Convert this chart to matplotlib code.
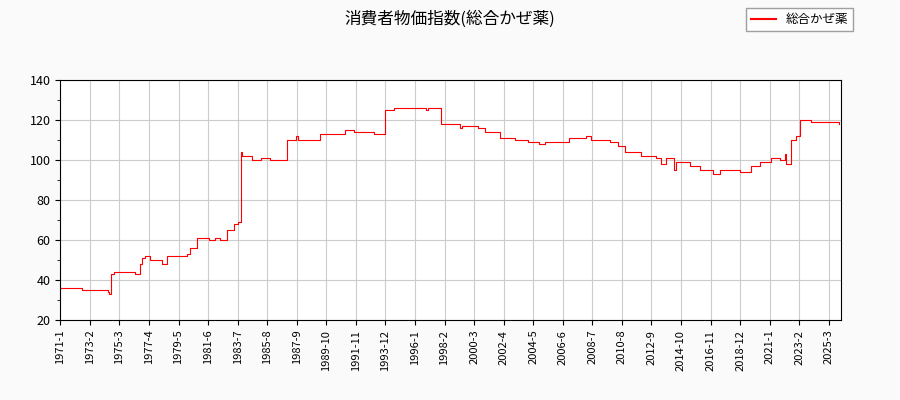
import matplotlib
matplotlib.use("Agg")
import matplotlib.pyplot as plt
from matplotlib.ticker import MultipleLocator

plt.rcParams['font.family'] = ['Noto Sans CJK JP', 'DejaVu Sans']

month_index = [0,18,40,41,43,45,63,67,69,72,76,86,90,100,107,110,116,122,126,131,135,141,147,150,153,154,162,170,177,186,192,199,201,218,220,239,241,247,248,262,265,274,275,282,306,309,311,321,322,336,338,340,350,353,359,371,372,384,385,394,396,403,405,410,428,430,440,445,449,457,465,472,478,491,504,508,512,519,521,533,541,552,558,575,584,592,601,609,613,614,618,622,626,635,647,659]
values = [36,35,34,33,43,44,43,48,51,52,50,48,52,52,53,56,61,61,60,61,60,65,68,69,104,102,100,101,100,100,110,112,110,110,113,113,115,115,114,114,113,113,125,126,126,125,126,126,118,118,116,117,117,116,114,114,111,111,110,110,109,109,108,109,109,111,111,112,110,110,109,107,104,102,101,98,101,95,99,97,95,93,95,94,97,99,101,100,103,98,110,112,120,119,119,118]

tick_labels = ['1971-1','1973-2','1975-3','1977-4','1979-5','1981-6','1983-7','1985-8','1987-9','1989-10','1991-11','1993-12','1996-1','1998-2','2000-3','2002-4','2004-5','2006-6','2008-7','2010-8','2012-9','2014-10','2016-11','2018-12','2021-1','2023-2','2025-3']

fig = plt.figure(figsize=(9, 4), dpi=100, facecolor='#fafafa')
ax = fig.add_axes([0.067, 0.2, 0.867, 0.6])
ax.set_facecolor('white')
ax.plot(month_index, values, color='red', lw=0.8, drawstyle='steps-post', label='総合かぜ薬')
ax.set_xlim(0, 660)
ax.set_ylim(20, 140)
ax.set_xticks([i * 25 for i in range(len(tick_labels))])
ax.set_xticklabels(tick_labels, rotation=90, fontsize=8)
ax.yaxis.set_major_locator(MultipleLocator(20))
ax.yaxis.set_minor_locator(MultipleLocator(10))
ax.tick_params(axis='y', labelsize=9)
ax.grid(True, color='#cccccc', lw=0.8)
fig.suptitle('消費者物価指数(総合かぜ薬)', y=0.975, fontsize=12)
leg = fig.legend(loc='upper right', bbox_to_anchor=(0.955, 0.995), fontsize=9, fancybox=False, edgecolor='#888888')
for l in leg.get_lines():
    l.set_linewidth(1.5)
fig.savefig('out.png', facecolor=fig.get_facecolor())
